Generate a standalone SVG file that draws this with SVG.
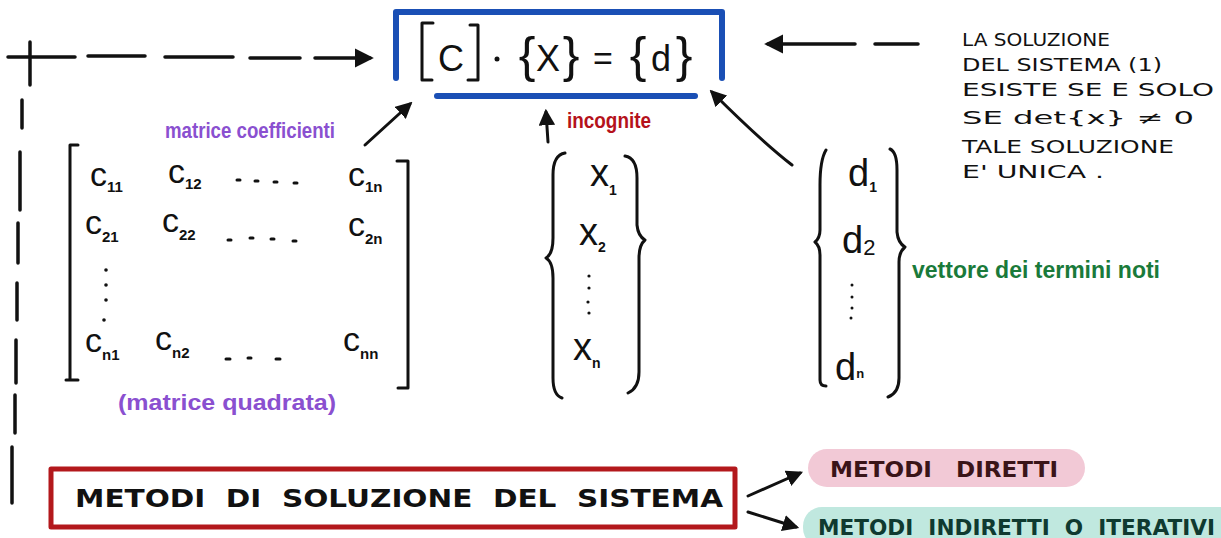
<svg xmlns="http://www.w3.org/2000/svg" width="1221" height="538" viewBox="0 0 1221 538">
<defs>
<style>
.ink{fill:none;stroke:#111;stroke-width:3;stroke-linecap:round;stroke-linejoin:round}
.dash{fill:none;stroke:#111;stroke-width:3.5;stroke-linecap:round}
.hw{font-family:"Liberation Sans","DejaVu Sans",sans-serif;fill:#111}
.sub{font-weight:bold}
.caps{font-family:"DejaVu Sans","Liberation Sans",sans-serif;fill:#111;font-weight:bold}
.note{font-family:"DejaVu Sans","Liberation Sans",sans-serif;fill:#111;font-size:17px}
.purple{font-family:"Liberation Sans",sans-serif;fill:#8a50d0;font-size:22px;font-weight:bold}
.eq{font-family:"Liberation Sans",sans-serif;fill:#111}
</style>
<marker id="ah" viewBox="0 0 10 10" refX="8" refY="5" markerWidth="5.5" markerHeight="5.5" orient="auto-start-reverse">
<path d="M0,0 L10,5 L0,10 z" fill="#111"/>
</marker>
</defs>
<rect width="1221" height="538" fill="#fff"/>

<g id="connectors">
<path class="dash" d="M8 57 H75 M88 56 H145 M165 57 H233 M250 58 H300 M315 58 H370" marker-end="url(#ah)"/>
<path class="dash" d="M30 42 V85"/>
<path class="dash" d="M22 100 V128 M20 152 V210 M18 223 V263 M17 283 V320 M16 340 V383 M15 395 V433 M12 447 V503"/>
<path class="dash" d="M918 44 H875 M855 44 H768" marker-end="url(#ah)"/>
<path class="ink" d="M365 145 L410 104" marker-end="url(#ah)"/>
<path class="ink" d="M548 142 L546 112" marker-end="url(#ah)"/>
<path class="ink" d="M792 165 Q760 140 712 92" marker-end="url(#ah)"/>
<path class="ink" d="M748 496 L800 473" marker-end="url(#ah)"/>
<path class="ink" d="M748 512 L796 527" marker-end="url(#ah)"/>
</g>

<g id="equation">
<path d="M396 78 V12 H722 V78" fill="none" stroke="#1a4fb5" stroke-width="6" stroke-linecap="round" stroke-linejoin="round"/>
<path d="M437 96 H695" fill="none" stroke="#1a4fb5" stroke-width="6" stroke-linecap="round"/>
<path class="ink" d="M433 23 H422 V80 H432 M470 25 H478 V80 H468" stroke-width="2.5"/>
<text class="eq" x="451" y="71" font-size="36" text-anchor="middle">C</text>
<circle cx="497" cy="59" r="2.5" fill="#111"/>
<text class="eq" x="527" y="72" font-size="50" text-anchor="middle">{</text>
<text class="eq" x="548" y="71" font-size="36" text-anchor="middle">X</text>
<text class="eq" x="571" y="72" font-size="50" text-anchor="middle">}</text>
<text class="eq" x="603" y="70" font-size="34" text-anchor="middle">=</text>
<text class="eq" x="638" y="72" font-size="50" text-anchor="middle">{</text>
<text class="eq" x="661" y="71" font-size="36" text-anchor="middle">d</text>
<text class="eq" x="684" y="72" font-size="50" text-anchor="middle">}</text>
</g>

<g id="note">
<text class="note">
<tspan x="962" y="46" textLength="148" lengthAdjust="spacingAndGlyphs">LA SOLUZIONE</tspan>
<tspan x="962" y="71" textLength="200" lengthAdjust="spacingAndGlyphs">DEL SISTEMA (1)</tspan>
<tspan x="962" y="96" textLength="252" lengthAdjust="spacingAndGlyphs">ESISTE SE E SOLO</tspan>
<tspan x="962" y="124" textLength="232" lengthAdjust="spacingAndGlyphs">SE  det{x} ≠ 0</tspan>
<tspan x="962" y="153" textLength="212" lengthAdjust="spacingAndGlyphs">TALE SOLUZIONE</tspan>
<tspan x="962" y="178" textLength="142" lengthAdjust="spacingAndGlyphs">E' UNICA .</tspan>
</text>
</g>

<g id="matrix">
<text class="purple" x="165" y="138" textLength="170" lengthAdjust="spacingAndGlyphs">matrice coefficienti</text>
<path class="ink" d="M78 145 H70 V380 H66 M78 380 H66"/>
<path class="ink" d="M397 161 H408 V388 H398"/>
<g class="hw" font-size="34">
<text x="90" y="186">c<tspan class="sub" font-size="15" dy="6">11</tspan></text>
<text x="168" y="183">c<tspan class="sub" font-size="15" dy="6">12</tspan></text>
<text x="348" y="186">c<tspan class="sub" font-size="15" dy="6">1n</tspan></text>
<text x="85" y="234">c<tspan class="sub" font-size="15" dy="8">21</tspan></text>
<text x="162" y="232">c<tspan class="sub" font-size="15" dy="8">22</tspan></text>
<text x="348" y="236">c<tspan class="sub" font-size="15" dy="8">2n</tspan></text>
<text x="85" y="352">c<tspan class="sub" font-size="15" dy="8">n1</tspan></text>
<text x="155" y="350">c<tspan class="sub" font-size="15" dy="8">n2</tspan></text>
<text x="343" y="351">c<tspan class="sub" font-size="15" dy="8">nn</tspan></text>
</g>
<path class="ink" stroke-width="2.5" d="M237 180 h3 M255 181 h3 M274 182 h3 M294 183 h3 M228 240 h3 M250 238 h3 M271 239 h3 M293 241 h3 M226 359 h4 M248 358 h3 M276 359 h4"/>
<g fill="#111">
<circle cx="106" cy="270" r="1.8"/><circle cx="106" cy="285" r="1.8"/><circle cx="106" cy="300" r="1.8"/><circle cx="104" cy="320" r="1.8"/>
</g>
<text class="purple" x="118" y="410" textLength="218" lengthAdjust="spacingAndGlyphs">(matrice quadrata)</text>
</g>

<g id="unknowns">
<text x="567" y="128" font-family="Liberation Sans,sans-serif" font-size="22" font-weight="bold" fill="#b5121b" textLength="84" lengthAdjust="spacingAndGlyphs">incognite</text>
<path class="ink" d="M565 153 Q553 155 553 175 V238 Q553 254 546 258 Q553 262 553 278 V378 Q553 395 562 398"/>
<path class="ink" d="M625 156 Q637 158 637 178 V225 Q638 236 645 240 Q639 245 639 258 V372 Q639 388 628 393"/>
<g class="hw" font-size="38">
<text x="590" y="186">x<tspan class="sub" font-size="14" dy="9">1</tspan></text>
<text x="579" y="245">x<tspan class="sub" font-size="14" dy="7">2</tspan></text>
<text x="573" y="360">x<tspan class="sub" font-size="14" dy="8">n</tspan></text>
</g>
<g fill="#111"><circle cx="589" cy="276" r="1.6"/><circle cx="589" cy="288" r="1.6"/><circle cx="588" cy="302" r="1.6"/><circle cx="589" cy="313" r="1.6"/></g>
</g>

<g id="knowns">
<path class="ink" d="M826 150 Q820 160 820 185 V230 Q820 238 815 242 Q820 246 820 255 V380 Q820 386 826 386"/>
<path class="ink" d="M890 149 Q897 152 897 170 V232 Q898 243 905 247 Q899 252 899 262 V378 Q899 393 888 397"/>
<g class="hw" font-size="38">
<text x="848" y="186">d<tspan class="sub" font-size="14" dy="6">1</tspan></text>
<text x="842" y="253">d<tspan font-size="22" dy="2">2</tspan></text>
<text x="835" y="380">d<tspan class="sub" font-size="13" dy="-2">n</tspan></text>
</g>
<g fill="#111"><circle cx="852" cy="285" r="1.5"/><circle cx="852" cy="297" r="1.5"/><circle cx="852" cy="308" r="1.5"/><circle cx="851" cy="318" r="1.5"/></g>
<text x="912" y="278" font-family="Liberation Sans,sans-serif" font-size="24" font-weight="bold" fill="#1a7a3a" textLength="248" lengthAdjust="spacingAndGlyphs">vettore dei termini noti</text>
</g>

<g id="methods">
<rect x="51" y="469" width="684" height="58" fill="none" stroke="#b3181c" stroke-width="5" stroke-linejoin="round"/>
<text class="caps" x="75" y="507" font-size="24" textLength="648" lengthAdjust="spacingAndGlyphs" xml:space="preserve">METODI  DI  SOLUZIONE  DEL  SISTEMA</text>
</g>

<g id="direct">
<rect x="808" y="449" width="277" height="38" rx="19" fill="#f2c9d6"/>
<text class="caps" x="830" y="477" font-size="21" textLength="228" lengthAdjust="spacingAndGlyphs" style="fill:#3a1418" xml:space="preserve">METODI   DIRETTI</text>
</g>

<g id="indirect">
<rect x="803" y="507" width="440" height="40" rx="19" fill="#c0e8df"/>
<text class="caps" x="818" y="535" font-size="21" textLength="397" lengthAdjust="spacingAndGlyphs" style="fill:#0f3a30" xml:space="preserve">METODI  INDIRETTI  O  ITERATIVI</text>
</g>
</svg>
